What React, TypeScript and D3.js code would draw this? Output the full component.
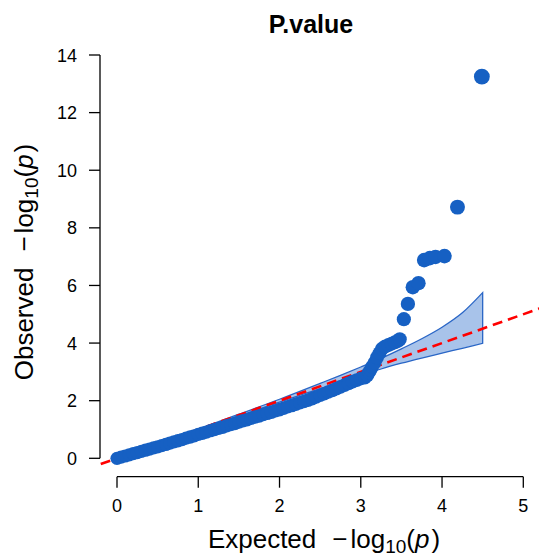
import React from 'react';
import * as d3 from 'd3';

// QQ plot of P.value: expected vs observed -log10(p)
const expected = [
    0.00, 0.05, 0.10, 0.15, 0.20, 0.25, 0.30, 0.35, 0.40, 0.45,
    0.50, 0.55, 0.60, 0.65, 0.70, 0.75, 0.80, 0.85, 0.90, 0.95,
    1.00, 1.05, 1.10, 1.15, 1.20, 1.25, 1.30, 1.35, 1.40, 1.45,
    1.50, 1.55, 1.60, 1.65, 1.70, 1.75, 1.80, 1.85, 1.90, 1.95,
    2.00, 2.05, 2.10, 2.15, 2.20, 2.25, 2.30, 2.35, 2.40, 2.45,
    2.50, 2.55, 2.60, 2.65, 2.70, 2.75, 2.80, 2.85, 2.90, 2.95,
    3.00, 3.05, 3.08, 3.10, 3.12, 3.14, 3.17, 3.20, 3.23, 3.26,
    3.30, 3.34, 3.38, 3.42, 3.46, 3.48, 3.53, 3.58, 3.64, 3.71,
    3.78, 3.85, 3.92, 4.03, 4.19, 4.49
];
const observed = [
    0.00, 0.04, 0.08, 0.12, 0.16, 0.20, 0.24, 0.28, 0.32, 0.36,
    0.40, 0.44, 0.48, 0.53, 0.57, 0.61, 0.65, 0.70, 0.74, 0.78,
    0.83, 0.87, 0.91, 0.96, 1.00, 1.04, 1.08, 1.13, 1.17, 1.21,
    1.26, 1.30, 1.34, 1.39, 1.43, 1.47, 1.52, 1.56, 1.60, 1.65,
    1.69, 1.74, 1.79, 1.83, 1.88, 1.93, 1.97, 2.02, 2.07, 2.13,
    2.19, 2.24, 2.30, 2.36, 2.42, 2.48, 2.54, 2.60, 2.66, 2.71,
    2.77, 2.80, 2.88, 2.98, 3.07, 3.18, 3.32, 3.50, 3.65, 3.80,
    3.88, 3.93, 3.98, 4.03, 4.08, 4.13, 4.83, 5.36, 5.94, 6.08,
    6.88, 6.95, 6.99, 7.02, 8.72, 13.25
];

// 95% confidence band
const ciExpected = [0, 0.5, 1, 1.5, 2, 2.5, 2.75, 3, 3.25, 3.5, 3.75, 4, 4.25, 4.5];
const ciUpper = [0, 0.505, 1.015, 1.53, 2.05, 2.6, 2.88, 3.17, 3.47, 3.8, 4.15, 4.55, 5.05, 5.75];
const ciLower = [0, 0.495, 0.985, 1.47, 1.95, 2.42, 2.64, 2.87, 3.1, 3.3, 3.48, 3.65, 3.82, 3.99];

const xTicks = [0, 1, 2, 3, 4, 5];
const yTicks = [0, 2, 4, 6, 8, 10, 12, 14];

const font = 'Liberation Sans, Arial, Helvetica, sans-serif';
const pointCol = '#1660c3';

function LogLabel(props: {name: string}) {
    return (
        <>
            <tspan>{props.name}</tspan>
            <tspan dx={16}>{'\u2212'}</tspan>
            <tspan dx={3}>log</tspan>
            <tspan fontSize={19} dy={5}>10</tspan>
            <tspan dy={-5}>(</tspan>
            <tspan fontStyle='italic'>p</tspan>
            <tspan dx={2}>)</tspan>
        </>
    );
}

export default function App() {
    const width = 539, height = 558;
    const x = d3.scaleLinear().domain([0, 5]).range([117, 523.3]);
    const y = d3.scaleLinear().domain([0, 14]).range([458.3, 55]);
    const r = d3.scaleLinear().domain([0, 14]).range([6.6, 8]);

    const ci = ciExpected.map((e, i) => ({e: e, lo: ciLower[i], hi: ciUpper[i]}));
    const area = d3.area<any>()
        .x(d => x(d.e))
        .y0(d => y(d.lo))
        .y1(d => y(d.hi))
        .curve(d3.curveMonotoneX);

    const pts = expected.map((e, i) => ({e: e, o: observed[i]}));

    const axisY = 476.7, axisX = 100;

    return (
        <svg width={width} height={height} style={{position: 'absolute', left: 0, top: 0, background: '#fff'}}
             fontFamily={font}>
            <text x={311} y={33} textAnchor='middle' fontSize={25} fontWeight='bold'>P.value</text>

            {/* confidence band */}
            <path d={area(ci) || ''} fill='#a8c3ea' stroke='#2a66c6' strokeWidth={1.3}/>

            {/* y = x reference */}
            <line x1={x(-0.2)} y1={y(-0.2)} x2={x(5.2)} y2={y(5.2)}
                  stroke='#ff0000' strokeWidth={2.6} strokeDasharray='10,6'/>

            {pts.map((d, i) => (
                <circle key={i} cx={x(d.e)} cy={y(d.o)} r={r(d.o)} fill={pointCol}/>
            ))}

            {/* x axis */}
            <line x1={x(0)} x2={x(5)} y1={axisY} y2={axisY} stroke='#000' strokeWidth={1.3}/>
            {xTicks.map(t => (
                <g key={t}>
                    <line x1={x(t)} x2={x(t)} y1={axisY} y2={axisY + 11} stroke='#000' strokeWidth={1.3}/>
                    <text x={x(t)} y={512} textAnchor='middle' fontSize={18}>{t}</text>
                </g>
            ))}

            {/* y axis */}
            <line x1={axisX} x2={axisX} y1={y(0)} y2={y(14)} stroke='#000' strokeWidth={1.3}/>
            {yTicks.map(t => (
                <g key={t}>
                    <line x1={axisX - 11} x2={axisX} y1={y(t)} y2={y(t)} stroke='#000' strokeWidth={1.3}/>
                    <text x={77} y={y(t) + 6.5} textAnchor='end' fontSize={18}>{t}</text>
                </g>
            ))}

            {/* axis titles */}
            <text x={324} y={548} textAnchor='middle' fontSize={26}>
                <LogLabel name='Expected'/>
            </text>
            <text transform='translate(33,262) rotate(-90)' textAnchor='middle' fontSize={26}>
                <LogLabel name='Observed'/>
            </text>
        </svg>
    );
}
